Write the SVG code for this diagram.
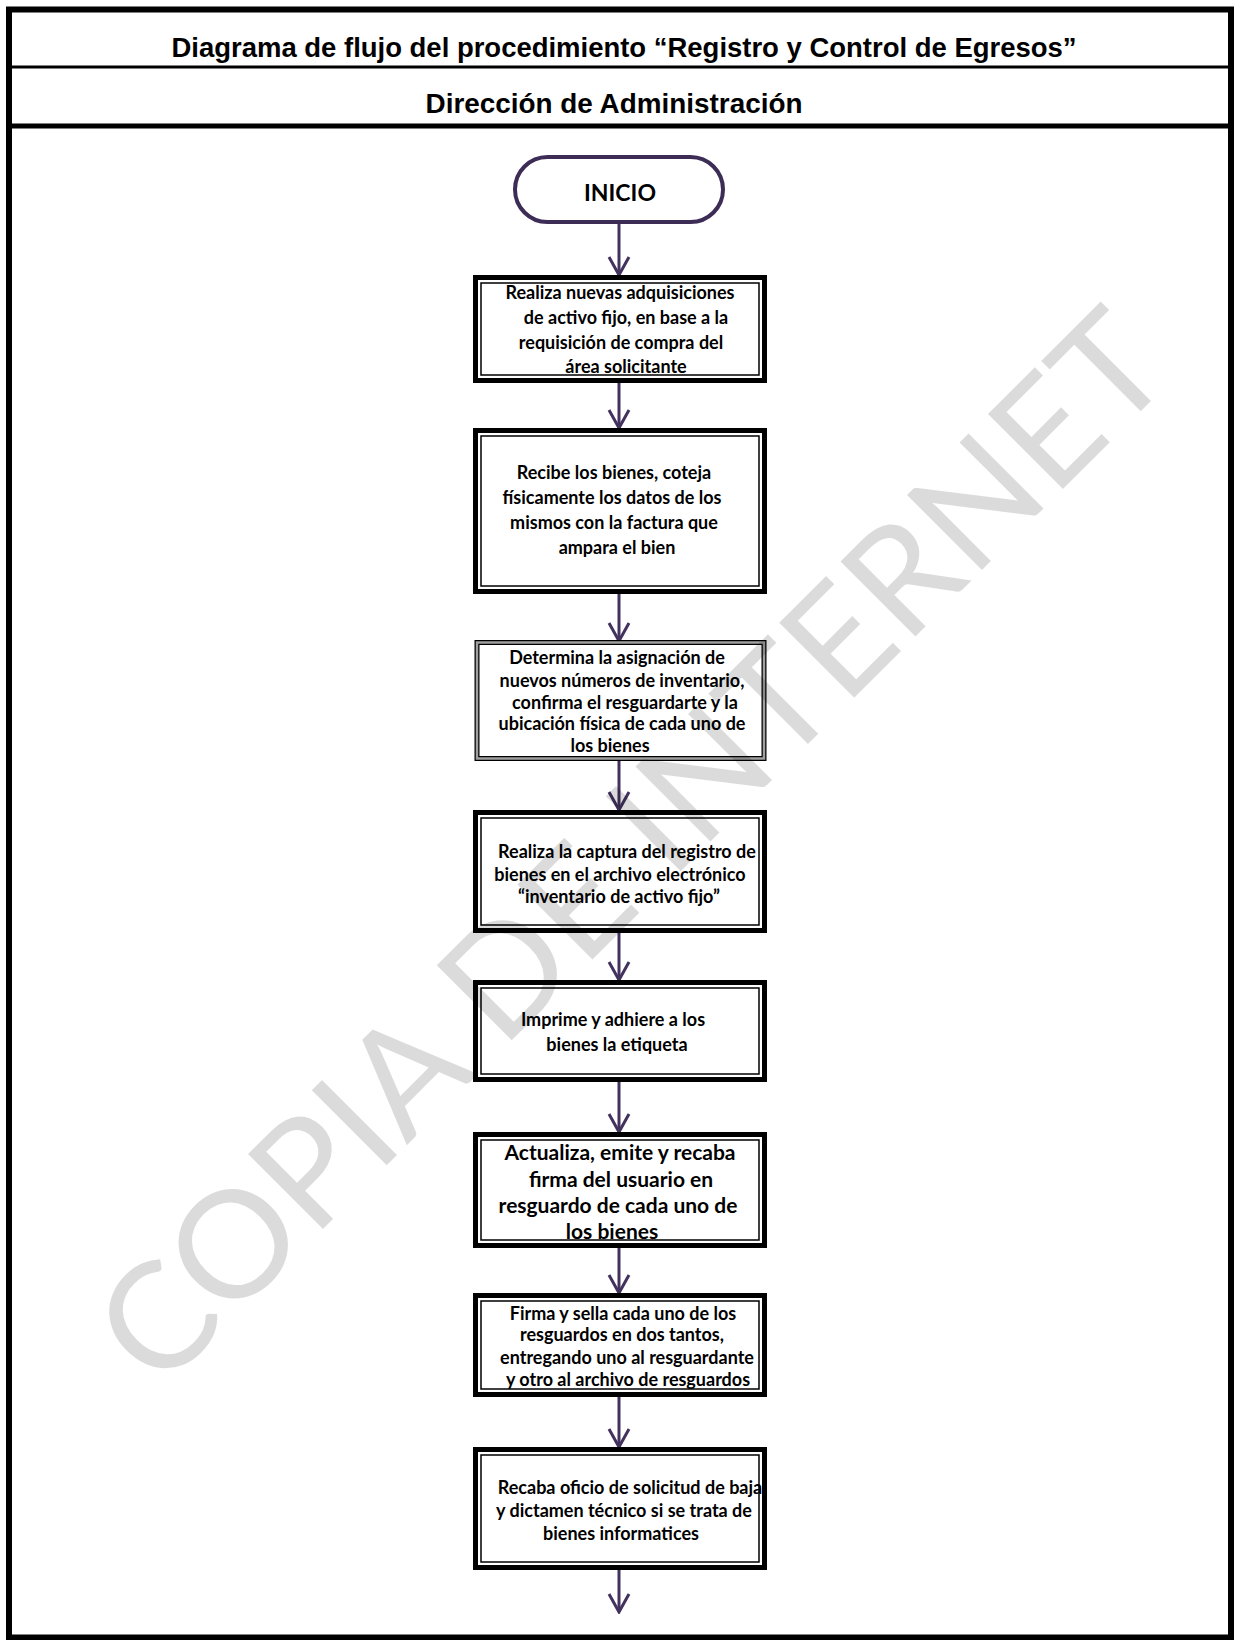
<svg xmlns="http://www.w3.org/2000/svg" width="1240" height="1640" viewBox="0 0 1240 1640">
<style>
.hdr{font-family:"Liberation Sans",Arial,sans-serif;font-weight:700;font-size:27px;fill:#000;text-anchor:middle}
.t{font-family:Lato,"Noto Sans",sans-serif;font-weight:700;font-size:18px;fill:#000;text-anchor:middle}
.big{font-size:21px}
.outer{fill:#fff;stroke:#000;stroke-width:5}
.inner{fill:none;stroke:#000;stroke-width:1.5}
.conn{stroke:#43325e;stroke-width:3;fill:none}
.wm{font-family:Lato,"Noto Sans",sans-serif;font-weight:400;font-size:148px;fill:#000;fill-opacity:0.14;text-anchor:middle}
</style>
<defs>
<marker id="v" viewBox="-2 -12 22 24" refX="18" refY="0" markerWidth="22" markerHeight="24" markerUnits="userSpaceOnUse" orient="auto">
<path d="M0,-10 L18,0 L0,10" fill="none" stroke="#43325e" stroke-width="3"/>
</marker>
</defs>
<rect x="0" y="0" width="1240" height="1640" fill="#fff"/>
<g id="frame">
<rect x="9" y="9.5" width="1222" height="1628" fill="none" stroke="#000" stroke-width="6"/>
<line x1="9" y1="67" x2="1231" y2="67" stroke="#000" stroke-width="3"/>
<line x1="9" y1="126" x2="1231" y2="126" stroke="#000" stroke-width="5"/>
<text class="hdr" x="624" y="57" textLength="905" lengthAdjust="spacingAndGlyphs">Diagrama de flujo del procedimiento “Registro y Control de Egresos”</text>
<text class="hdr" x="614" y="113" textLength="377" lengthAdjust="spacingAndGlyphs">Dirección de Administración</text>
</g>
<g id="connectors">
<line class="conn" x1="619" y1="223" x2="619" y2="275" marker-end="url(#v)"/>
<line class="conn" x1="619" y1="383" x2="619" y2="428" marker-end="url(#v)"/>
<line class="conn" x1="619" y1="594" x2="619" y2="641" marker-end="url(#v)"/>
<line class="conn" x1="619" y1="760" x2="619" y2="810" marker-end="url(#v)"/>
<line class="conn" x1="619" y1="933" x2="619" y2="980" marker-end="url(#v)"/>
<line class="conn" x1="619" y1="1082" x2="619" y2="1132" marker-end="url(#v)"/>
<line class="conn" x1="619" y1="1248" x2="619" y2="1293" marker-end="url(#v)"/>
<line class="conn" x1="619" y1="1397" x2="619" y2="1447" marker-end="url(#v)"/>
<line class="conn" x1="619" y1="1570" x2="619" y2="1612" marker-end="url(#v)"/>
</g>
<g id="inicio">
<rect x="515" y="157" width="208" height="65" rx="32.5" fill="#fff" stroke="#3d2c55" stroke-width="4"/>
<text class="t" x="620" y="201" style="font-size:23px">INICIO</text>
</g>
<g id="n1">
<rect class="outer" x="475.5" y="277.5" width="289" height="103"/>
<rect class="inner" x="481" y="283" width="278" height="92"/>
<text class="t" x="620" y="299">Realiza nuevas adquisiciones</text>
<text class="t" x="626" y="324">de activo fijo, en base a la</text>
<text class="t" x="621" y="349">requisición de compra del</text>
<text class="t" x="626" y="373">área solicitante</text>
</g>
<g id="n2">
<rect class="outer" x="475.5" y="430.5" width="289" height="161"/>
<rect class="inner" x="481" y="436" width="278" height="150"/>
<text class="t" x="614" y="479">Recibe los bienes, coteja</text>
<text class="t" x="612" y="504">físicamente los datos de los</text>
<text class="t" x="614" y="529">mismos con la factura que</text>
<text class="t" x="617" y="554">ampara el bien</text>
</g>
<g id="n3">
<rect x="477" y="642.5" width="287" height="116" fill="#fff" stroke="#000" stroke-width="5"/>
<rect x="477" y="642.5" width="287" height="116" fill="none" stroke="#a0a0a0" stroke-width="2.5"/>
<text class="t" x="617" y="664">Determina la asignación de</text>
<text class="t" x="622" y="687">nuevos números de inventario,</text>
<text class="t" x="625" y="709">confirma el resguardarte y la</text>
<text class="t" x="622" y="730">ubicación física de cada uno de</text>
<text class="t" x="610" y="752">los bienes</text>
</g>
<g id="n4">
<rect class="outer" x="475.5" y="812.5" width="289" height="118"/>
<rect class="inner" x="481" y="818" width="278" height="107"/>
<text class="t" x="627" y="858">Realiza la captura del registro de</text>
<text class="t" x="620" y="881">bienes en el archivo electrónico</text>
<text class="t" x="619" y="903">“inventario de activo fijo”</text>
</g>
<g id="n5">
<rect class="outer" x="475.5" y="982.5" width="289" height="97"/>
<rect class="inner" x="481" y="988" width="278" height="86"/>
<text class="t" x="613" y="1026">Imprime y adhiere a los</text>
<text class="t" x="617" y="1051">bienes la etiqueta</text>
</g>
<g id="n6">
<rect class="outer" x="475.5" y="1134.5" width="289" height="111"/>
<rect class="inner" x="481" y="1140" width="278" height="100"/>
<text class="t big" x="620" y="1160">Actualiza, emite y recaba</text>
<text class="t big" x="621" y="1187">firma del usuario en</text>
<text class="t big" x="618" y="1213">resguardo de cada uno de</text>
<text class="t big" x="612" y="1239">los bienes</text>
</g>
<g id="n7">
<rect class="outer" x="475.5" y="1295.5" width="289" height="99"/>
<rect class="inner" x="481" y="1301" width="278" height="88"/>
<text class="t" x="623" y="1320">Firma y sella cada uno de los</text>
<text class="t" x="622" y="1341">resguardos en dos tantos,</text>
<text class="t" x="627" y="1364">entregando uno al resguardante</text>
<text class="t" x="628" y="1386">y otro al archivo de resguardos</text>
</g>
<g id="n8">
<rect class="outer" x="475.5" y="1449.5" width="289" height="118"/>
<rect class="inner" x="481" y="1455" width="278" height="107"/>
<text class="t" x="630" y="1494">Recaba oficio de solicitud de baja</text>
<text class="t" x="624" y="1517">y dictamen técnico si se trata de</text>
<text class="t" x="621" y="1540">bienes informatices</text>
</g>
<text class="wm" x="0" y="0" transform="translate(668,884) rotate(-45)" textLength="1440" lengthAdjust="spacingAndGlyphs">COPIA DE INTERNET</text>
</svg>
